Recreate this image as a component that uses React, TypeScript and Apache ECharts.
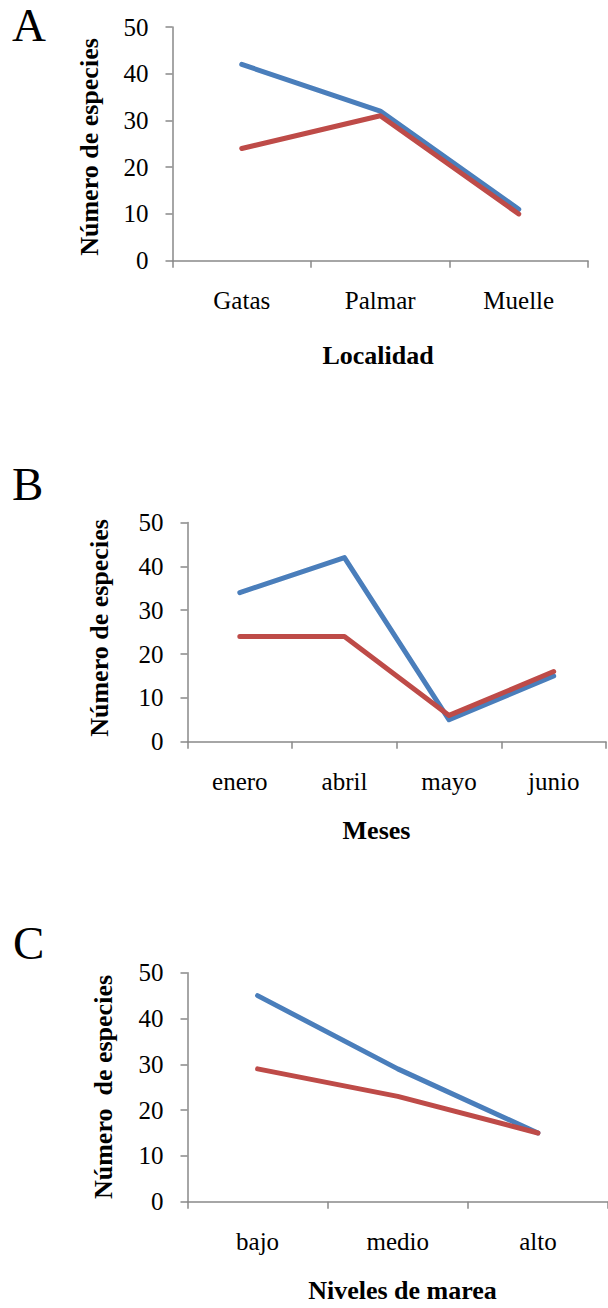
import React, { useEffect, useRef } from "react";
import * as echarts from "echarts";

// ---- data ----
const panelLetters = ["A", "B", "C"];
const yAxisTitle = "Número de especies";
const yAxisTitleC = "Número  de especies";
const xTitles = ["Localidad", "Meses", "Niveles de marea"];

const localidades = ["Gatas", "Palmar", "Muelle"];
const localidadAzul = [42, 32, 11];
const localidadRoja = [24, 31, 10];

const meses = ["enero", "abril", "mayo", "junio"];
const mesesAzul = [34, 42, 5, 15];
const mesesRoja = [24, 24, 6, 16];

const niveles = ["bajo", "medio", "alto"];
const nivelesAzul = [45, 29, 15];
const nivelesRoja = [29, 23, 15];

const yMin = 0;
const yMax = 50;
const yInterval = 10;

const BLUE = "#4A7EBB";
const RED = "#BE4B48";
const AXIS = "#898989";
const FONT = "Liberation Serif";

export default function App() {
  const ref = useRef<HTMLDivElement>(null);

  useEffect(() => {
    if (!ref.current) return;
    const chart = echarts.init(ref.current, undefined, { renderer: "svg" });

    const grids = [
      { left: 172.5, top: 27, width: 415.5, height: 233.7 },
      { left: 187.5, top: 522.5, width: 418.5, height: 219.2 },
      { left: 187.5, top: 972.7, width: 427, height: 229 },
    ];
    const cats = [localidades, meses, niveles];
    const blues = [localidadAzul, mesesAzul, nivelesAzul];
    const reds = [localidadRoja, mesesRoja, nivelesRoja];

    const xAxis = cats.map((c, i) => ({
      type: "category",
      gridIndex: i,
      data: c,
      boundaryGap: true,
      axisLine: { show: true, lineStyle: { color: AXIS, width: 1.5 } },
      axisTick: { show: true, length: 7, interval: 0, lineStyle: { color: AXIS, width: 1.5 } },
      axisLabel: { color: "#000", fontFamily: FONT, fontSize: 25, margin: 27, interval: 0 },
      splitLine: { show: false },
    }));

    const yAxis = cats.map((_, i) => ({
      type: "value",
      gridIndex: i,
      min: yMin,
      max: yMax,
      interval: yInterval,
      axisLine: { show: true, lineStyle: { color: AXIS, width: 1.5 } },
      axisTick: { show: true, length: 7, lineStyle: { color: AXIS, width: 1.5 } },
      axisLabel: { color: "#000", fontFamily: FONT, fontSize: 25, margin: 24 },
      splitLine: { show: false },
    }));

    const lineSeries = (data: number[], color: string, i: number, name: string) => ({
      type: "line",
      name,
      xAxisIndex: i,
      yAxisIndex: i,
      data,
      symbol: "none",
      lineStyle: { color, width: 5, cap: "round", join: "round" },
      itemStyle: { color },
    });

    const series: any[] = [];
    for (let i = 0; i < 3; i++) {
      series.push(lineSeries(blues[i], BLUE, i, "Serie 1"));
      series.push(lineSeries(reds[i], RED, i, "Serie 2"));
    }

    const letterPos = [
      { x: 12, y: 25 },
      { x: 12, y: 484 },
      { x: 13, y: 943 },
    ];
    const xTitlePos = [
      { x: 378, y: 355 },
      { x: 376.5, y: 830 },
      { x: 402.5, y: 1290 },
    ];
    const yTitlePos = [
      { x: 89, y: 147 },
      { x: 99.5, y: 628 },
      { x: 103, y: 1087 },
    ];

    const graphic: any[] = [];
    for (let i = 0; i < 3; i++) {
      graphic.push({
        type: "text",
        x: letterPos[i].x,
        y: letterPos[i].y,
        style: {
          text: panelLetters[i],
          fontFamily: FONT,
          fontSize: 47,
          fill: "#000",
          align: "left",
          verticalAlign: "middle",
        },
      });
      graphic.push({
        type: "text",
        x: xTitlePos[i].x,
        y: xTitlePos[i].y,
        style: {
          text: xTitles[i],
          fontFamily: FONT,
          fontSize: 26,
          fontWeight: "bold",
          fill: "#000",
          align: "center",
          verticalAlign: "middle",
        },
      });
      graphic.push({
        type: "text",
        x: yTitlePos[i].x,
        y: yTitlePos[i].y,
        rotation: Math.PI / 2,
        style: {
          text: i === 2 ? yAxisTitleC : yAxisTitle,
          fontFamily: FONT,
          fontSize: 26,
          fontWeight: "bold",
          fill: "#000",
          align: "center",
          verticalAlign: "middle",
        },
      });
    }

    chart.setOption({
      animation: false,
      backgroundColor: "#fff",
      grid: grids.map((g) => ({ ...g, containLabel: false })),
      xAxis,
      yAxis,
      series,
      graphic,
    });

    return () => chart.dispose();
  }, []);

  return (
    <div
      ref={ref}
      style={{ position: "absolute", left: 0, top: 0, width: 608, height: 1308, background: "#fff" }}
    />
  );
}
